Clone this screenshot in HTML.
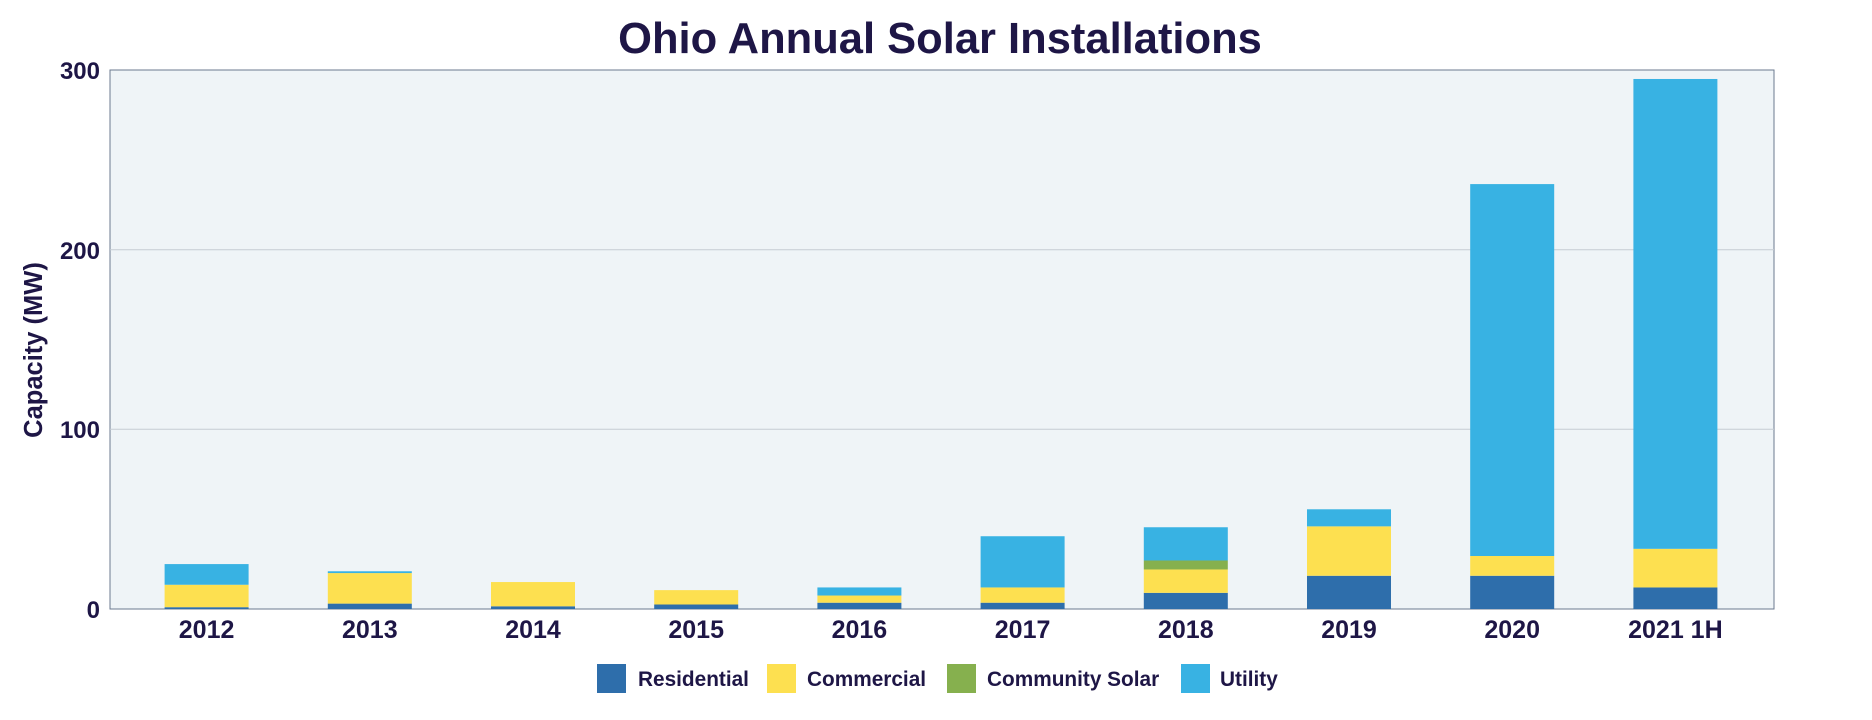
<!DOCTYPE html>
<html><head><meta charset="utf-8"><style>body{margin:0;background:#fff}svg{display:block;font-family:"Liberation Sans",Arial,sans-serif;font-weight:bold}</style></head>
<body>
<svg width="1872" height="720" viewBox="0 0 1872 720">
<text x="940" y="53" text-anchor="middle" font-size="43.5" fill="#1e1646">Ohio Annual Solar Installations</text>
<rect x="110" y="70" width="1664" height="539" fill="#eff4f7" stroke="#6b7a8f" stroke-width="1"/>
<line x1="110" y1="249.7" x2="1774" y2="249.7" stroke="#c5ccd3"/>
<line x1="110" y1="429.3" x2="1774" y2="429.3" stroke="#c5ccd3"/>
<g font-size="24" fill="#1e1646" text-anchor="end">
<text x="100" y="79">300</text><text x="100" y="259">200</text><text x="100" y="438">100</text><text x="100" y="618">0</text>
</g>
<text transform="translate(42,350) rotate(-90)" text-anchor="middle" font-size="25.5" fill="#1e1646">Capacity (MW)</text>
<g id="bars"></g>
<g font-size="25" fill="#1e1646" text-anchor="middle" id="xl"></g>
<g font-size="20.8" fill="#1e1646">
<rect x="597" y="664" width="29" height="29" fill="#2e6eab"/><text x="638" y="686">Residential</text>
<rect x="767" y="664" width="29" height="29" fill="#fde050"/><text x="807" y="686">Commercial</text>
<rect x="947" y="664" width="29" height="29" fill="#86b04e"/><text x="987" y="686">Community Solar</text>
<rect x="1181" y="664" width="29" height="29" fill="#38b2e3"/><text x="1220" y="686">Utility</text>
</g>
</svg>
<script>
var d=[["2012",1,13.5,13.5,25],["2013",3,20,20,21],["2014",1.5,15,15,15],["2015",2.5,10.5,10.5,10.5],["2016",3.5,7.5,7.5,12],["2017",3.5,12,12,40.5],["2018",9,22,27,45.5],["2019",18.5,46,46,55.5],["2020",18.5,29.5,29.5,236.5],["2021 1H",12,33.5,33.5,295]];
var c=["#2e6eab","#fde050","#86b04e","#38b2e3"],s="",t="",k=539/300;
d.forEach(function(r,i){var cx=206.6+163.2*i,p=0;for(var j=0;j<4;j++){var v=r[j+1];if(v>p){var y1=609-v*k,y0=609-p*k;s+='<rect x="'+(cx-42)+'" y="'+y1+'" width="84" height="'+(y0-y1)+'" fill="'+c[j]+'"/>';}p=Math.max(p,v);}
t+='<text x="'+cx+'" y="638">'+r[0]+'</text>';});
document.getElementById("bars").innerHTML=s;document.getElementById("xl").innerHTML=t;
</script>
</body></html>
